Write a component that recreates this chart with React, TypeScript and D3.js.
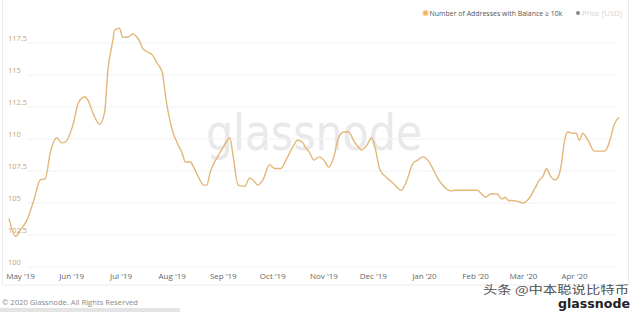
import React from "react";
import * as d3 from "d3";

const dates: string[] = [
  "2019-04-24","2019-04-28","2019-05-01","2019-05-05","2019-05-09","2019-05-13","2019-05-16","2019-05-19","2019-05-23","2019-05-26","2019-05-28",
  "2019-06-02","2019-06-05","2019-06-09","2019-06-11","2019-06-14","2019-06-18","2019-06-21","2019-06-23","2019-06-26","2019-06-27","2019-06-30",
  "2019-07-02","2019-07-05","2019-07-08","2019-07-10","2019-07-12","2019-07-14","2019-07-17","2019-07-20","2019-07-23","2019-07-26","2019-07-28",
  "2019-08-01","2019-08-04","2019-08-07","2019-08-09","2019-08-12","2019-08-14","2019-08-17","2019-08-20","2019-08-22","2019-08-24","2019-08-28",
  "2019-09-01","2019-09-05","2019-09-07","2019-09-10","2019-09-14","2019-09-17","2019-09-19","2019-09-22","2019-09-25","2019-09-29",
  "2019-10-02","2019-10-06","2019-10-09","2019-10-13","2019-10-16","2019-10-19","2019-10-21","2019-10-23","2019-10-26","2019-10-29",
  "2019-11-01","2019-11-04","2019-11-07","2019-11-10","2019-11-13","2019-11-16","2019-11-19","2019-11-22","2019-11-24","2019-11-27","2019-11-30",
  "2019-12-02","2019-12-05","2019-12-09","2019-12-13","2019-12-18","2019-12-21","2019-12-25","2019-12-28","2019-12-31",
  "2020-01-03","2020-01-06","2020-01-09","2020-01-12","2020-01-17","2020-01-20",
  "2020-02-02","2020-02-04","2020-02-07","2020-02-10","2020-02-14","2020-02-17","2020-02-19","2020-02-21","2020-02-23","2020-02-26",
  "2020-03-01","2020-03-02","2020-03-05","2020-03-08","2020-03-11","2020-03-13","2020-03-15","2020-03-17","2020-03-20","2020-03-22","2020-03-24","2020-03-26","2020-03-28","2020-03-31",
  "2020-04-02","2020-04-04","2020-04-06","2020-04-08","2020-04-10","2020-04-13","2020-04-16","2020-04-19","2020-04-21","2020-04-23","2020-04-25","2020-04-28",
];

// Number of Addresses with Balance >= 10k (thousands)
const addresses: number[] = [
  103.8,102.4,102.9,103.7,105.2,106.8,106.9,108.9,110.1,109.7,109.75,
  111.2,112.8,113.3,113.0,112.0,111.15,112.1,115.4,117.7,118.5,118.65,
  117.95,117.95,118.2,118.05,117.7,117.1,116.8,116.55,115.9,115.2,113.3,
  110.7,109.7,108.9,108.2,108.2,107.8,107.0,106.4,106.4,107.4,108.5,
  109.35,110.1,108.6,106.4,106.3,106.95,106.8,106.4,106.8,108.0,
  107.7,107.7,108.35,109.35,109.9,109.75,109.3,109.0,108.35,108.6,
  108.35,107.8,108.6,110.15,110.55,110.55,109.9,109.35,109.15,109.5,110.1,
  109.35,107.6,107.0,106.55,106.0,106.65,108.1,108.35,108.6,
  108.35,107.7,106.95,106.4,105.95,106.0,
  106.0,105.8,105.45,105.7,105.7,105.3,105.45,105.2,105.2,105.15,
  105.0,105.05,105.45,106.15,106.85,107.1,107.7,107.2,106.8,107.0,108.0,109.9,110.55,110.45,
  110.45,109.9,110.45,110.15,109.7,109.05,109.05,109.05,109.35,110.15,111.1,111.7,
];

const yTicks: number[] = [100, 102.5, 105, 107.5, 110, 112.5, 115, 117.5];
const xTickDates: string[] = [
  "2019-05-01","2019-06-01","2019-07-01","2019-08-01","2019-09-01","2019-10-01",
  "2019-11-01","2019-12-01","2020-01-01","2020-02-01","2020-03-01","2020-04-01",
];
const xTickLabels: string[] = [
  "May '19","Jun '19","Jul '19","Aug '19","Sep '19","Oct '19",
  "Nov '19","Dec '19","Jan '20","Feb '20","Mar '20","Apr '20",
];

const seriesName = "Number of Addresses with Balance ≥ 10k";
const priceName = "Price [USD]";

const W = 640;
const H = 312;

export default function App() {
  const parse = d3.timeParse("%Y-%m-%d");
  const data = dates.map((d, i) => ({ date: parse(d) as Date, value: addresses[i] }));

  const x = d3
    .scaleTime()
    .domain([parse("2019-04-24") as Date, parse("2020-04-28") as Date])
    .range([9, 619]);
  const y = d3.scaleLinear().domain([100, 117.5]).range([267, 43]);

  const line = d3
    .line<{ date: Date; value: number }>()
    .x((d) => x(d.date))
    .y((d) => y(d.value))
    .curve(d3.curveMonotoneX);

  const font = "'Open Sans', 'DejaVu Sans', sans-serif";

  return (
    <svg
      width={W}
      height={H}
      style={{ position: "absolute", left: 0, top: 0, background: "#fff" }}
      fontFamily={font}
    >
      {/* card frame */}
      <rect x={2.5} y={-2} width={626} height={287} fill="#fff" stroke="#ececec" />

      {/* watermark */}
      <text
        x={314}
        y={150}
        textAnchor="middle"
        fontSize={50}
        fill="#e9e9e9"
        fontFamily="'DejaVu Sans', sans-serif"
        textLength={216}
        lengthAdjust="spacingAndGlyphs"
      >
        glassnode
      </text>

      {/* grid */}
      {yTicks.map((t) => (
        <g key={t}>
          <line x1={28} x2={617} y1={y(t)} y2={y(t)} stroke="#f1f1f1" strokeWidth={1} />
          <text x={8} y={y(t) - 2} fontSize={7.5} fill="#c9a46e">
            {t}
          </text>
        </g>
      ))}

      {/* x labels */}
      {xTickDates.map((d, i) => (
        <text
          key={d}
          x={x(parse(d) as Date)}
          y={279}
          textAnchor="middle"
          fontSize={8}
          fill="#666"
        >
          {xTickLabels[i]}
        </text>
      ))}

      {/* line */}
      <path d={line(data) || ""} fill="none" stroke="#e3b77a" strokeWidth={1.4} />

      {/* legend */}
      <circle cx={425.5} cy={13} r={3.2} fill="#f7d9a8" />
      <circle cx={425.5} cy={13} r={2} fill="#eeb15c" />
      <text x={429.5} y={16} fontSize={7.6} fill="#555" textLength={133} lengthAdjust="spacingAndGlyphs">
        {seriesName}
      </text>
      <circle cx={578} cy={13} r={2} fill="#888" />
      <text x={582} y={16} fontSize={7.6} fill="#d4d4d4" textLength={40} lengthAdjust="spacingAndGlyphs">
        {priceName}
      </text>

      {/* footer */}
      <text x={2} y={305} fontSize={8} fill="#8a8a8a" textLength={136} lengthAdjust="spacingAndGlyphs">
        © 2020 Glassnode. All Rights Reserved
      </text>
      <rect x={0} y={308} width={180} height={4} fill="#e4e4e4" />

      {/* bottom-right watermark */}
      <text x={483} y={294} fontSize={11.5} fill="#333" fontFamily="'Noto Sans CJK SC', sans-serif" opacity={0.85} textLength={146} lengthAdjust="spacingAndGlyphs">
        头条 @中本聪说比特币
      </text>
      <text x={558} y={308} fontSize={12.5} fontWeight={700} fill="#222" fontFamily="'DejaVu Sans', sans-serif" textLength={72} lengthAdjust="spacingAndGlyphs">
        glassnode
      </text>
    </svg>
  );
}
